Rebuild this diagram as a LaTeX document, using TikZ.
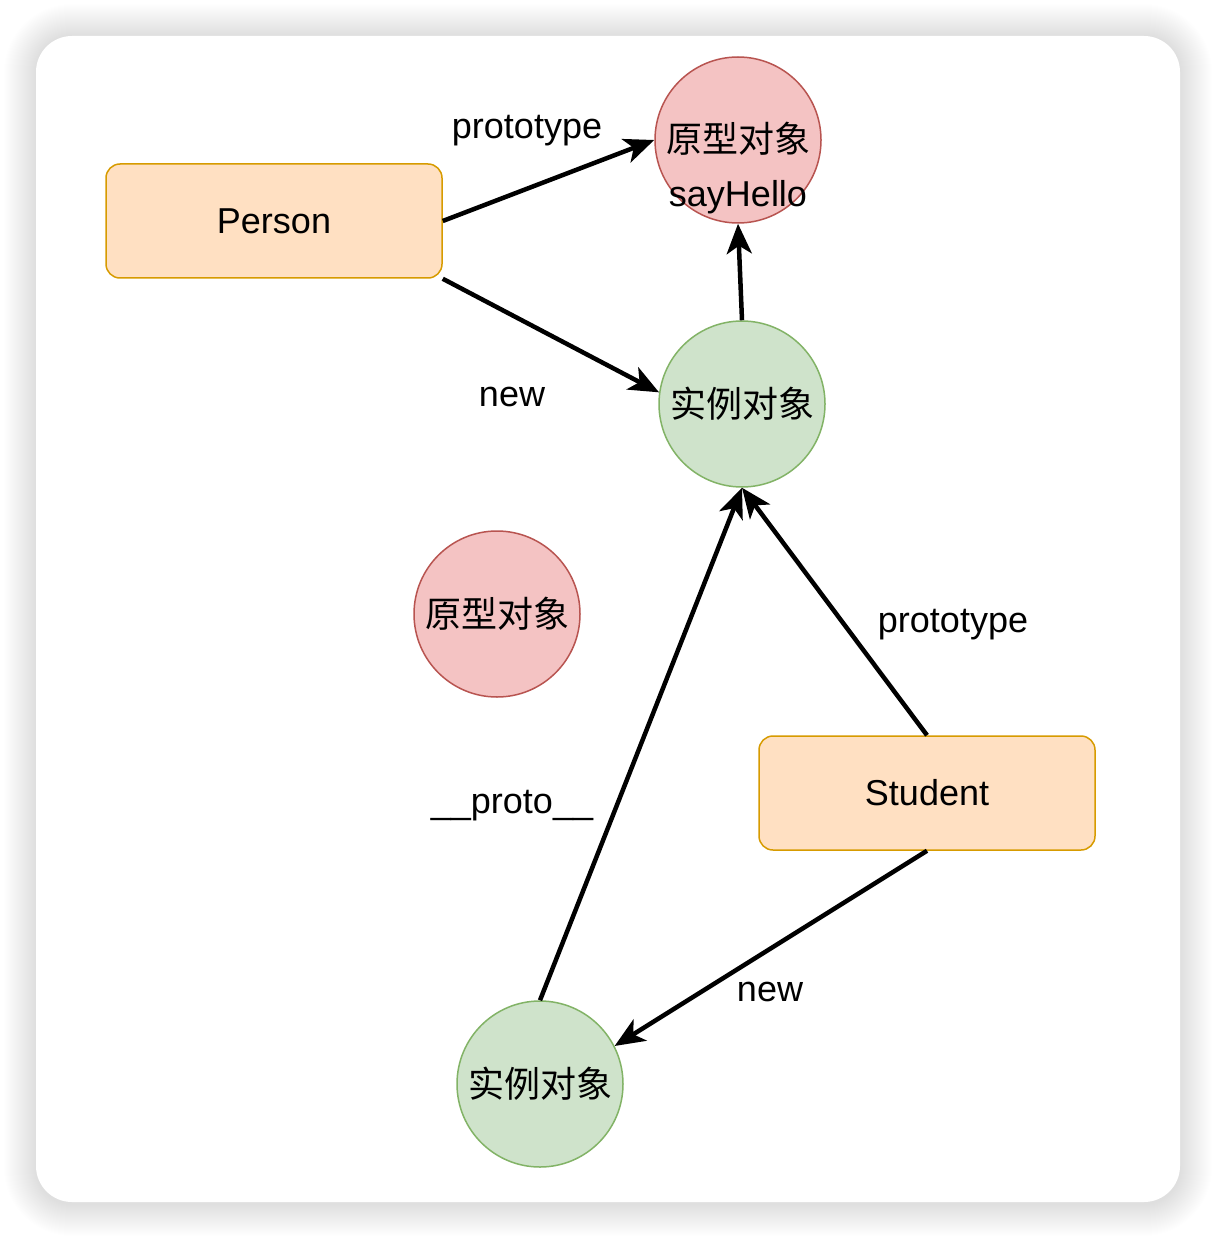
\documentclass[tikz,border=0pt]{standalone}
\usepackage{fontspec}
\setmainfont{Liberation Sans}
\newfontfamily\cjk{Noto Sans CJK SC}
\usetikzlibrary{arrows.meta}
\definecolor{orfill}{HTML}{FFE0C2}
\definecolor{ordraw}{HTML}{D79B00}
\definecolor{rdfill}{HTML}{F4C3C3}
\definecolor{rddraw}{HTML}{B85450}
\definecolor{grfill}{HTML}{CFE3CB}
\definecolor{grdraw}{HTML}{82B366}
\tikzset{
  txt/.style={font=\fontsize{36}{54}\selectfont, inner sep=0pt},
  classbox/.style={draw=ordraw, fill=orfill, line width=1.5pt, rounded corners=14pt,
    minimum width=336pt, minimum height=114pt, txt},
  protocirc/.style={circle, draw=rddraw, fill=rdfill, line width=1.5pt, minimum size=166pt, txt},
  instcirc/.style={circle, draw=grdraw, fill=grfill, line width=1.5pt, minimum size=166pt, txt},
  link/.style={line width=4.5pt, -{Stealth[length=30pt,width=25pt,inset=8pt]}},
  lbl/.style={txt}
}
\begin{document}
\begin{tikzpicture}[x=1pt,y=-1pt]
\useasboundingbox (0,0) rectangle (1216,1238);
\fill[white] (0,0) rectangle (1216,1238);
% shadow
\foreach \i in {1,...,32}{
  \pgfmathsetmacro{\rr}{36+\i}
  \fill[black, fill opacity=0.005, rounded corners=\rr pt] (36-\i,36-\i) rectangle (1180+\i,1204+\i);
}
\fill[white, rounded corners=36pt] (36,36) rectangle (1180,1202);

% nodes
\node[classbox] (person) at (274,221) {Person};
\node[classbox] (student) at (927,793) {Student};
\node[protocirc] (proto1) at (738,140) {};
\node[txt, align=center] (proto1txt) at (738,168) {{\cjk 原型对象}\\sayHello};
\node[instcirc] (inst1) at (742,404) {\cjk 实例对象};
\node[protocirc] (proto2) at (497,614) {\cjk 原型对象};
\node[instcirc] (inst2) at (540,1084) {\cjk 实例对象};

% connectors
\draw[link] (person.east) -- (proto1.west);
\draw[link] (person.south east) -- (inst1.172);
\draw[link] (inst1.north) -- (proto1.south);
\draw[link] (student.north) -- (inst1.south);
\draw[link] (inst2.north) -- (inst1.south);
\draw[link] (student.south) -- (inst2.27);

% labels
\node[lbl] (l1) at (527,131) {prototype};
\node[lbl] (l2) at (512,397) {new};
\node[lbl] (l3) at (953,625) {prototype};
\node[lbl, anchor=base] (l4) at (512,813) {\_\_proto\_\_};
\node[lbl] (l5) at (770,992) {new};
\end{tikzpicture}
\end{document}
